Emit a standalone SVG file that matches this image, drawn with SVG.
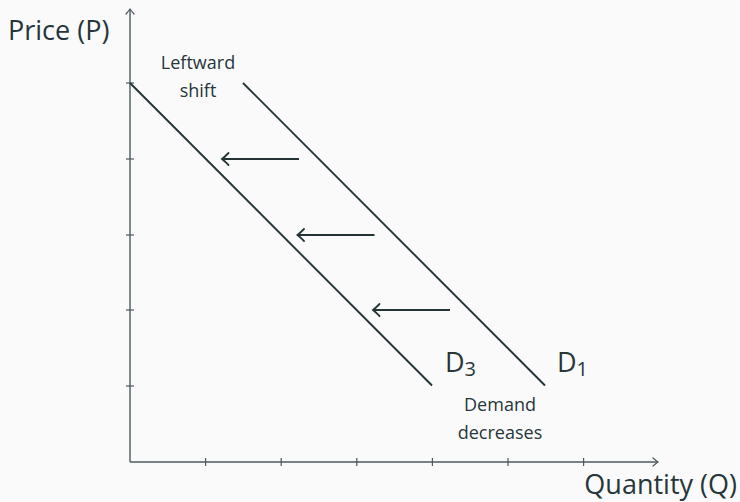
<svg xmlns="http://www.w3.org/2000/svg" width="740" height="502" viewBox="0 0 740 502">
<defs>
<style>
.t{font-family:"Open Sans","DejaVu Sans",sans-serif;fill:#26363a}
.big{font-size:27px}
.sm{font-size:18px}
.ax{stroke:#4a5a5c;stroke-width:1.4;fill:none}
.tk{stroke:#4a5a5c;stroke-width:1.2}
.dl{stroke:#243436;stroke-width:1.9;fill:none}
.ar{stroke:#243436;stroke-width:1.9;fill:none}
</style>
<marker id="hd" markerUnits="userSpaceOnUse" markerWidth="16" markerHeight="16" refX="0" refY="0" viewBox="-10 -8 12 16" orient="auto" overflow="visible">
<path d="M-6.5,-6 Q-2,-1.5 0,0 Q-2,1.5 -6.5,6" fill="none" stroke="#243436" stroke-width="1.8" stroke-linecap="round"/>
</marker>
<marker id="ah" markerUnits="userSpaceOnUse" markerWidth="12" markerHeight="12" refX="0" refY="0" viewBox="-8 -6 10 12" orient="auto" overflow="visible">
<path d="M-5,-4 Q-1.5,-1 0,0 Q-1.5,1 -5,4" fill="none" stroke="#4a5a5c" stroke-width="1.2" stroke-linecap="round"/>
</marker>
</defs>
<rect width="740" height="502" fill="#fafafa"/>
<g id="axes">
<line class="ax" x1="130" y1="462" x2="130" y2="9" marker-end="url(#ah)"/>
<line class="ax" x1="130" y1="462" x2="658" y2="462" marker-end="url(#ah)"/>
<g id="ticks">
<line class="tk" x1="126" y1="83" x2="134" y2="83"/>
<line class="tk" x1="126" y1="159" x2="134" y2="159"/>
<line class="tk" x1="126" y1="235" x2="134" y2="235"/>
<line class="tk" x1="126" y1="310" x2="134" y2="310"/>
<line class="tk" x1="126" y1="386" x2="134" y2="386"/>
<line class="tk" x1="205.6" y1="458" x2="205.6" y2="466"/>
<line class="tk" x1="281.2" y1="458" x2="281.2" y2="466"/>
<line class="tk" x1="356.8" y1="458" x2="356.8" y2="466"/>
<line class="tk" x1="432.4" y1="458" x2="432.4" y2="466"/>
<line class="tk" x1="508" y1="458" x2="508" y2="466"/>
<line class="tk" x1="583.6" y1="458" x2="583.6" y2="466"/>
</g>
</g>
<g id="D3">
<line class="dl" x1="130" y1="83" x2="432" y2="385.5"/>
<text class="t big" x="445" y="372">D<tspan font-size="20" dy="4">3</tspan></text>
</g>
<g id="D1">
<line class="dl" x1="243" y1="83" x2="545" y2="385.5"/>
<text class="t big" x="557" y="372">D<tspan font-size="20" dy="4">1</tspan></text>
</g>
<g id="connectors">
<line class="ar" x1="299" y1="159" x2="222" y2="159" marker-end="url(#hd)"/>
<line class="ar" x1="374.5" y1="235" x2="297.5" y2="235" marker-end="url(#hd)"/>
<line class="ar" x1="450" y1="310" x2="373" y2="310" marker-end="url(#hd)"/>
</g>
<g id="labels">
<text class="t big" x="8" y="40">Price (P)</text>
<text class="t big" x="737" y="494" text-anchor="end">Quantity (Q)</text>
<text class="t sm" x="198" y="69" text-anchor="middle">Leftward</text>
<text class="t sm" x="198" y="97" text-anchor="middle">shift</text>
<text class="t sm" x="500" y="411" text-anchor="middle">Demand</text>
<text class="t sm" x="500" y="439" text-anchor="middle">decreases</text>
</g>
</svg>
